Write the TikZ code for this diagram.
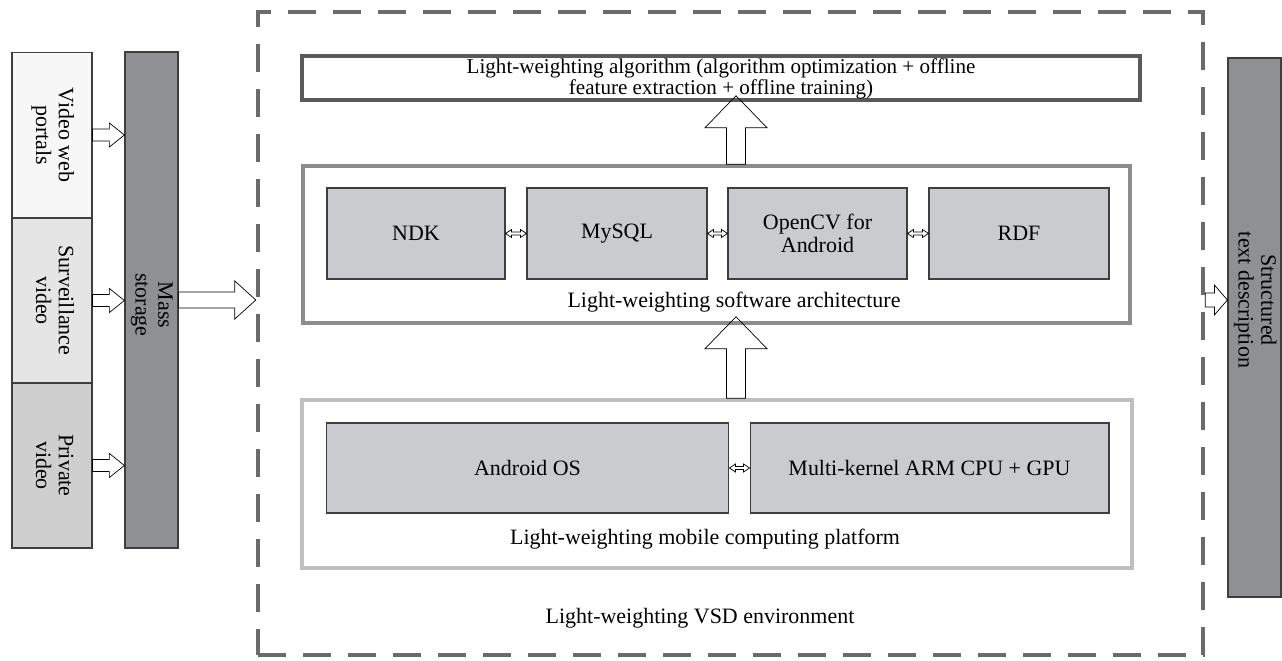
\documentclass[tikz,border=0pt]{standalone}
\usepackage{fontspec}
\usepackage{graphicx}
\setmainfont{Liberation Serif}
\usetikzlibrary{calc}
\definecolor{boxline}{HTML}{3E3E3E}
\definecolor{innerfill}{HTML}{C9CBCE}
\definecolor{darkfill}{HTML}{8E9093}
\definecolor{arrowfill}{HTML}{F3F3F3}
\newcommand{\vtext}[1]{\rotatebox{-90}{\begin{tabular}{@{}c@{}}#1\end{tabular}}}

\begin{document}
\begin{tikzpicture}[x=0.02cm,y=-0.02cm,font=\fontsize{12.5}{13}\selectfont,
	srcbox/.style={draw=boxline,line width=0.6pt,minimum width=1.6cm,minimum height=3.3cm,inner sep=0pt},
	tallbox/.style={draw=boxline,fill=darkfill,line width=0.7pt,minimum width=1.06cm,inner sep=0pt},
	layer/.style={line width=2pt,fill=white,inner sep=0pt},
	part/.style={draw=boxline,fill=innerfill,line width=0.6pt,minimum height=1.82cm,inner sep=0pt,align=center},
	blockr/.style n args={3}{draw=black!65,fill=arrowfill,line width=0.6pt,
		to path={let \p1=(\tikztostart),\p2=(\tikztotarget) in
		(\x1,\y1+#1) -- (\x2-#3,\y1+#1) -- (\x2-#3,\y1+#2) -- (\x2,\y1) -- (\x2-#3,\y1-#2) -- (\x2-#3,\y1-#1) -- (\x1,\y1-#1) -- cycle}},
	blocku/.style n args={3}{draw=black!75,fill=arrowfill,line width=0.6pt,
		to path={let \p1=(\tikztostart),\p2=(\tikztotarget) in
		(\x1-#1,\y1) -- (\x1-#1,\y2-#3) -- (\x1-#2,\y2-#3) -- (\x1,\y2) -- (\x1+#2,\y2-#3) -- (\x1+#1,\y2-#3) -- (\x1+#1,\y1) -- cycle}},
	dbl/.style={draw=black!70,fill=white,line width=0.4pt,
		to path={let \p1=(\tikztostart),\p2=(\tikztotarget) in
		(\x1,\y1) -- (\x1+0.12cm,\y1+0.08cm) -- (\x1+0.12cm,\y1+0.03cm) -- (\x2-0.12cm,\y1+0.03cm) -- (\x2-0.12cm,\y1+0.08cm) -- (\x2,\y1)
		-- (\x2-0.12cm,\y1-0.08cm) -- (\x2-0.12cm,\y1-0.03cm) -- (\x1+0.12cm,\y1-0.03cm) -- (\x1+0.12cm,\y1-0.08cm) -- cycle}}]
	\useasboundingbox[fill=white] (0,0) rectangle (1282,661);

	% sources and storage
	\node[srcbox,fill=black!3] (vwp) at (52,135) {\vtext{Video web\\portals}};
	\node[srcbox,fill=black!10,minimum height=3.3cm] (sv) at (52,300.5) {\vtext{Surveillance\\video}};
	\node[srcbox,fill=black!19] (pv) at (52,465.5) {\vtext{Private\\video}};
	\node[tallbox,minimum height=9.92cm] (mass) at (151.5,300) {};
	\node at (151.5,305) {\vtext{Mass\\storage}};

	% VSD environment
	\node[draw=black!58,line width=2.6pt,dash pattern=on 0.56cm off 0.34cm,minimum width=18.9cm,minimum height=12.86cm] (env) at (730.5,333.5) {};
	\node (envlbl) at (700,618) {Light-weighting VSD environment};

	\node[layer,draw=black!65,minimum width=16.76cm,minimum height=0.88cm] (algo) at (721,78) {};

	\node[layer,draw=black!45,minimum width=16.54cm,minimum height=3.14cm] (arch) at (716.5,244.5) {};
	\node[part,minimum width=3.56cm] (ndk) at (416,233.5) {NDK};
	\node[part,minimum width=3.6cm] (sql) at (617,233.5) {MySQL};
	\node[part,minimum width=3.58cm] (ocv) at (817.5,233.5) {OpenCV for\\Android};
	\node[part,minimum width=3.6cm] (rdf) at (1019,233.5) {RDF};
	\node (archlbl) at (734,302) {Light-weighting software architecture};

	\node[layer,draw=black!25,minimum width=16.6cm,minimum height=3.36cm] (plat) at (717,484) {};
	\node[part,minimum width=8.06cm,minimum height=1.8cm] (aos) at (527.5,468) {Android OS};
	\node[part,minimum width=7.18cm,minimum height=1.8cm] (mk) at (929.5,468) {Multi-kernel ARM CPU + GPU};
	\node (platlbl) at (705,539) {Light-weighting mobile computing platform};

	% output
	\node[tallbox,minimum height=10.78cm] (sd) at (1254.5,327.5) {};
	\node at (1254.5,300) {\vtext{Structured\\text description}};

	% connectors
	\draw (vwp.east) to[blockr={0.12cm}{0.24cm}{0.3cm}] (vwp.east -| mass.west);
	\draw (sv.east) to[blockr={0.12cm}{0.24cm}{0.3cm}] (sv.east -| mass.west);
	\draw (pv.east) to[blockr={0.12cm}{0.24cm}{0.3cm}] (pv.east -| mass.west);
	\draw (mass.east) to[blockr={0.16cm}{0.38cm}{0.42cm}] (mass.east -| env.west);
	\draw (mass.east -| env.east) to[blockr={0.14cm}{0.3cm}{0.26cm}] (mass.east -| sd.west);

	\coordinate (upx) at (736,0);
	\draw (arch.north -| upx) to[blocku={0.19cm}{0.62cm}{0.64cm}] ($(algo.south -| upx)+(0,-6)$);
	\draw (plat.north -| upx) to[blocku={0.19cm}{0.62cm}{0.64cm}] ($(arch.south -| upx)+(0,-8)$);

	\draw (ndk.east) to[dbl] (sql.west);
	\draw (sql.east) to[dbl] (ocv.west);
	\draw (ocv.east) to[dbl] (rdf.west);
	\draw (aos.east) to[dbl] (mk.west);

	\node[align=center,inner sep=0pt,font=\fontsize{12}{10.8}\selectfont] (algolbl) at (721,79)
		{Light-weighting algorithm (algorithm optimization + offline\\feature extraction + offline training)};
\end{tikzpicture}
\end{document}
